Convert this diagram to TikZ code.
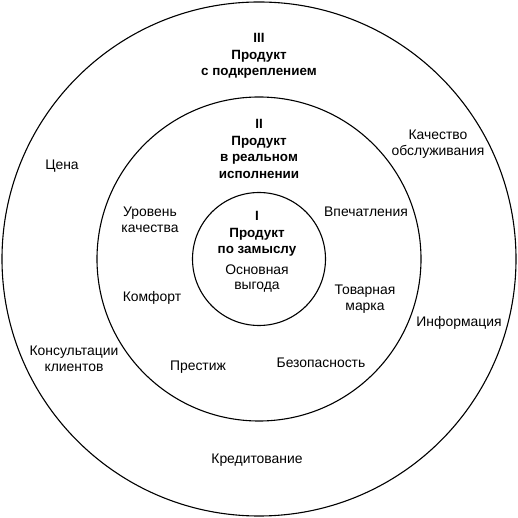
\documentclass[tikz,border=0pt]{standalone}
\usepackage{fontspec}
\setmainfont{Liberation Sans}
\usetikzlibrary{positioning}

\begin{document}
\begin{tikzpicture}[x=1pt,y=1pt,
  ring/.style={draw=black,line width=1.1pt},
  lvl/.style={font=\fontsize{13.4}{16.5}\selectfont\bfseries,align=center,inner sep=0pt},
  item/.style={font=\fontsize{13.9}{15.5}\selectfont,align=center,inner sep=0pt}]
  \useasboundingbox (-259,-259) rectangle (258,259);
  % three levels of the product
  \draw[ring] (0,0) circle (257pt);
  \draw[ring] (0,0) circle (162pt);
  \draw[ring] (0,0) circle (66.5pt);
  \node[lvl] (lvlIII) at (0,203) {III\\Продукт\\с подкреплением};
  \node[lvl] (lvlII) at (0,110) {II\\Продукт\\в реальном\\исполнении};
  \node[lvl] (lvlI) at (-2,25) {I\\Продукт\\по замыслу};
  \node[item] (core) at (-2,-19.5) {Основная\\выгода};
  % actual product
  \node[item] (quality) at (-109,39) {Уровень\\качества};
  \node[item] (comfort) at (-107,-39) {Комфорт};
  \node[item] (impress) at (107,47) {Впечатления};
  \node[item] (brand) at (106,-40) {Товарная\\марка};
  \node[item] (prestige) at (-61,-108) {Престиж};
  \node[item] (safety) at (62,-104) {Безопасность};
  % augmented product
  \node[item] (price) at (-197,93) {Цена};
  \node[item] (service) at (179,115) {Качество\\обслуживания};
  \node[item] (info) at (200,-64) {Информация};
  \node[item] (advice) at (-185,-100) {Консультации\\клиентов};
  \node[item] (credit) at (-2,-201) {Кредитование};
\end{tikzpicture}
\end{document}
